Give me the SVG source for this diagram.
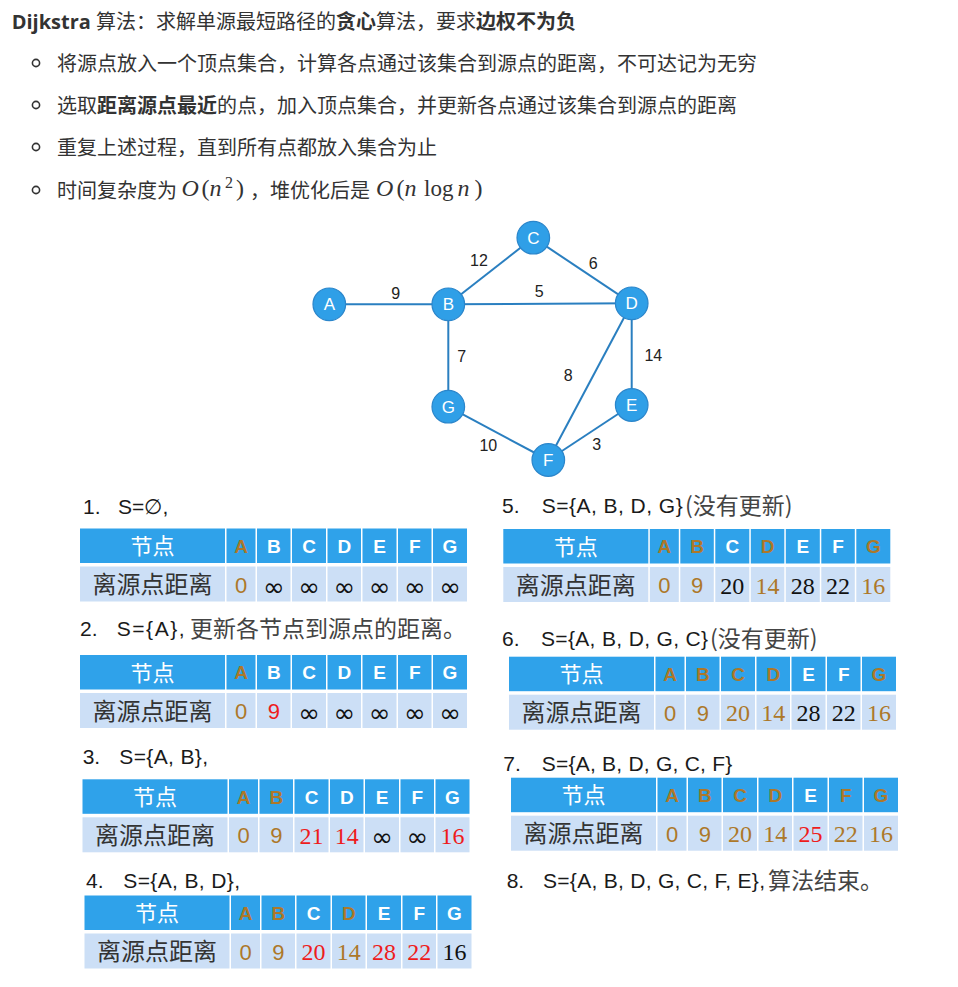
<svg xmlns="http://www.w3.org/2000/svg" xmlns:xlink="http://www.w3.org/1999/xlink" width="958" height="987" viewBox="0 0 958 987">
<style>
.t{font-family:"Open Sans","Noto Sans CJK SC",sans-serif;font-size:20px;fill:#333}
.b{font-weight:700}
.m{font-family:"Liberation Serif",serif;font-size:24px;fill:#333}
.mi{font-style:italic}
.bul{fill:none;stroke:#333;stroke-width:1.6}
.edge{stroke:#2A7FC0;stroke-width:2;fill:none}
.node circle{fill:#2F9FE7;stroke:#2B86CB;stroke-width:1.2}
.node text{fill:#fff;font-family:"Liberation Sans",sans-serif;font-size:17px;text-anchor:middle}
.el{font-family:"Liberation Sans",sans-serif;font-size:16px;fill:#222;text-anchor:middle}
.hd{fill:#2FA2EA}
.rw{fill:#CCDFF6}
.hl{font-family:"Liberation Sans",sans-serif;font-weight:700;font-size:19px;fill:#fff;text-anchor:middle}
.hz{font-family:"Noto Sans CJK SC",sans-serif;font-size:22px;fill:#fff;text-anchor:middle}
.rz{font-family:"Noto Sans CJK SC",sans-serif;font-size:24px;fill:#333;text-anchor:middle}
.v{font-family:"Liberation Serif",serif;font-size:24px;text-anchor:middle;fill:#111}
.vs{font-family:"Liberation Sans",sans-serif;font-size:22px;text-anchor:middle;fill:#111}
.inf{font-family:"DejaVu Sans",sans-serif;font-size:26px;text-anchor:middle;fill:#111}
.go{fill:#AD7829}
.rd{fill:#EE1C1C}
.st{font-family:"Liberation Sans",sans-serif;font-size:21px;fill:#1a1a1a}
.sz{font-family:"Noto Sans CJK SC",sans-serif;font-size:23px;fill:#444}
</style>
<defs>
<g id="tb">
<rect class="hd" x="0" y="0" width="145" height="34.5"/>
<rect class="hd" x="146.5" y="0" width="29" height="34.5"/>
<rect class="hd" x="177" y="0" width="33.5" height="34.5"/>
<rect class="hd" x="212" y="0" width="34" height="34.5"/>
<rect class="hd" x="247.5" y="0" width="33.5" height="34.5"/>
<rect class="hd" x="282.5" y="0" width="34" height="34.5"/>
<rect class="hd" x="318" y="0" width="33.5" height="34.5"/>
<rect class="hd" x="353" y="0" width="34" height="34.5"/>
<rect class="rw" x="0" y="38" width="145" height="35"/>
<rect class="rw" x="146.5" y="38" width="29" height="35"/>
<rect class="rw" x="177" y="38" width="33.5" height="35"/>
<rect class="rw" x="212" y="38" width="34" height="35"/>
<rect class="rw" x="247.5" y="38" width="33.5" height="35"/>
<rect class="rw" x="282.5" y="38" width="34" height="35"/>
<rect class="rw" x="318" y="38" width="33.5" height="35"/>
<rect class="rw" x="353" y="38" width="34" height="35"/>
<text class="hz" x="72.5" y="25.5">节点</text>
<text class="rz" x="72.5" y="64.5">离源点距离</text>
</g>
</defs>

<g id="intro">
<text class="t" x="11.7" y="29.3"><tspan class="b">Dijkstra</tspan> 算法：求解单源最短路径的<tspan class="b">贪心</tspan>算法，要求<tspan class="b">边权不为负</tspan></text>
<circle class="bul" cx="36" cy="63" r="3.6"/>
<text class="t" x="57" y="70.6">将源点放入一个顶点集合，计算各点通过该集合到源点的距离，不可达记为无穷</text>
<circle class="bul" cx="36" cy="105" r="3.6"/>
<text class="t" x="57" y="112.6">选取<tspan class="b">距离源点最近</tspan>的点，加入顶点集合，并更新各点通过该集合到源点的距离</text>
<circle class="bul" cx="36" cy="147" r="3.6"/>
<text class="t" x="57" y="154.6">重复上述过程，直到所有点都放入集合为止</text>
<circle class="bul" cx="36" cy="190" r="3.6"/>
<text class="t" x="57" y="197.6">时间复杂度为</text>
<text class="m mi" x="181.5" y="196">O</text>
<text class="m" x="201.5" y="196">(</text>
<text class="m mi" x="209.5" y="196">n</text>
<text class="m" x="225" y="188" style="font-size:16px">2</text>
<text class="m" x="236" y="196">)</text>
<text class="t" x="250" y="197.6">，堆优化后是</text>
<text class="m mi" x="376" y="196">O</text>
<text class="m" x="396.5" y="196">(</text>
<text class="m mi" x="404.5" y="196">n</text>
<text class="m" x="424" y="196" style="font-size:23px">log</text>
<text class="m mi" x="457.5" y="196">n</text>
<text class="m" x="474.5" y="196">)</text>
</g>

<g id="connectors">
<line class="edge" x1="329.3" y1="304.3" x2="448.3" y2="304.3"/>
<line class="edge" x1="448.3" y1="304.3" x2="533.3" y2="237.7"/>
<line class="edge" x1="533.3" y1="237.7" x2="631.7" y2="303.3"/>
<line class="edge" x1="448.3" y1="304.3" x2="631.7" y2="303.3"/>
<line class="edge" x1="448.3" y1="304.3" x2="448.3" y2="406.7"/>
<line class="edge" x1="631.7" y1="303.3" x2="548.3" y2="460"/>
<line class="edge" x1="631.7" y1="303.3" x2="631.7" y2="405"/>
<line class="edge" x1="448.3" y1="406.7" x2="548.3" y2="460"/>
<line class="edge" x1="631.7" y1="405" x2="548.3" y2="460"/>
<text class="el" x="479" y="265.5">12</text>
<text class="el" x="593.3" y="269">6</text>
<text class="el" x="395.7" y="299">9</text>
<text class="el" x="539.3" y="297.4">5</text>
<text class="el" x="461.7" y="362.4">7</text>
<text class="el" x="653.3" y="360.7">14</text>
<text class="el" x="568.3" y="380.7">8</text>
<text class="el" x="488.3" y="450.7">10</text>
<text class="el" x="596.7" y="450">3</text>
</g>

<g id="node-A" class="node"><circle cx="329.3" cy="304.3" r="16.3"/><text x="329.3" y="310.3">A</text></g>
<g id="node-B" class="node"><circle cx="448.3" cy="304.3" r="16.3"/><text x="448.3" y="310.3">B</text></g>
<g id="node-C" class="node"><circle cx="533.3" cy="237.7" r="16.3"/><text x="533.3" y="243.7">C</text></g>
<g id="node-D" class="node"><circle cx="631.7" cy="303.3" r="16.3"/><text x="631.7" y="309.3">D</text></g>
<g id="node-G" class="node"><circle cx="448.3" cy="406.7" r="16.3"/><text x="448.3" y="412.7">G</text></g>
<g id="node-E" class="node"><circle cx="631.7" cy="405" r="16.3"/><text x="631.7" y="411">E</text></g>
<g id="node-F" class="node"><circle cx="548.3" cy="460" r="16.3"/><text x="548.3" y="466">F</text></g>

<g id="step1">
<text class="st" x="83" y="514">1.</text>
<text class="st" x="118" y="514" textLength="50.3">S=∅,</text>
<g transform="translate(80,528.5)">
<use xlink:href="#tb" href="#tb"/>
<text class="hl go" x="161" y="24.3">A</text><text class="hl" x="193.75" y="24.3">B</text><text class="hl" x="229" y="24.3">C</text><text class="hl" x="264.25" y="24.3">D</text><text class="hl" x="299.5" y="24.3">E</text><text class="hl" x="334.75" y="24.3">F</text><text class="hl" x="370" y="24.3">G</text>
<text class="vs go" x="161" y="64.1">0</text><text class="inf" x="193.75" y="67">∞</text><text class="inf" x="229" y="67">∞</text><text class="inf" x="264.25" y="67">∞</text><text class="inf" x="299.5" y="67">∞</text><text class="inf" x="334.75" y="67">∞</text><text class="inf" x="370" y="67">∞</text>
</g>
</g>

<g id="step2">
<text class="st" x="80" y="635.5">2.</text>
<text class="st" x="116.7" y="635.5" textLength="68">S={A},</text>
<text class="sz" x="190" y="636.7">更新各节点到源点的距离。</text>
<g transform="translate(80,655)">
<use xlink:href="#tb" href="#tb"/>
<text class="hl go" x="161" y="24.3">A</text><text class="hl" x="193.75" y="24.3">B</text><text class="hl" x="229" y="24.3">C</text><text class="hl" x="264.25" y="24.3">D</text><text class="hl" x="299.5" y="24.3">E</text><text class="hl" x="334.75" y="24.3">F</text><text class="hl" x="370" y="24.3">G</text>
<text class="vs go" x="161" y="64.1">0</text><text class="vs rd" x="193.75" y="64.1">9</text><text class="inf" x="229" y="67">∞</text><text class="inf" x="264.25" y="67">∞</text><text class="inf" x="299.5" y="67">∞</text><text class="inf" x="334.75" y="67">∞</text><text class="inf" x="370" y="67">∞</text>
</g>
</g>

<g id="step3">
<text class="st" x="82.7" y="764">3.</text>
<text class="st" x="119.3" y="764" textLength="88.7">S={A, B},</text>
<g transform="translate(82.5,779.3)">
<use xlink:href="#tb" href="#tb"/>
<text class="hl go" x="161" y="24.3">A</text><text class="hl go" x="193.75" y="24.3">B</text><text class="hl" x="229" y="24.3">C</text><text class="hl" x="264.25" y="24.3">D</text><text class="hl" x="299.5" y="24.3">E</text><text class="hl" x="334.75" y="24.3">F</text><text class="hl" x="370" y="24.3">G</text>
<text class="vs go" x="161" y="64.1">0</text><text class="vs go" x="193.75" y="64.1">9</text><text class="v rd" x="229" y="64.6">21</text><text class="v rd" x="264.25" y="64.6">14</text><text class="inf" x="299.5" y="67">∞</text><text class="inf" x="334.75" y="67">∞</text><text class="v rd" x="370" y="64.6">16</text>
</g>
</g>

<g id="step4">
<text class="st" x="86" y="887.5">4.</text>
<text class="st" x="123.3" y="887.5" textLength="116.7">S={A, B, D},</text>
<g transform="translate(84.5,895.5)">
<use xlink:href="#tb" href="#tb"/>
<text class="hl go" x="161" y="24.3">A</text><text class="hl go" x="193.75" y="24.3">B</text><text class="hl" x="229" y="24.3">C</text><text class="hl go" x="264.25" y="24.3">D</text><text class="hl" x="299.5" y="24.3">E</text><text class="hl" x="334.75" y="24.3">F</text><text class="hl" x="370" y="24.3">G</text>
<text class="vs go" x="161" y="64.1">0</text><text class="vs go" x="193.75" y="64.1">9</text><text class="v rd" x="229" y="64.6">20</text><text class="v go" x="264.25" y="64.6">14</text><text class="v rd" x="299.5" y="64.6">28</text><text class="v rd" x="334.75" y="64.6">22</text><text class="v" x="370" y="64.6">16</text>
</g>
</g>

<g id="step5">
<text class="st" x="502" y="512.5">5.</text>
<text class="st" x="541.7" y="512.5" textLength="141">S={A, B, D, G}</text>
<text class="sz" x="685" y="513.7">(没有更新)</text>
<g transform="translate(503.3,529)">
<use xlink:href="#tb" href="#tb"/>
<text class="hl go" x="161" y="24.3">A</text><text class="hl go" x="193.75" y="24.3">B</text><text class="hl" x="229" y="24.3">C</text><text class="hl go" x="264.25" y="24.3">D</text><text class="hl" x="299.5" y="24.3">E</text><text class="hl" x="334.75" y="24.3">F</text><text class="hl go" x="370" y="24.3">G</text>
<text class="vs go" x="161" y="64.1">0</text><text class="vs go" x="193.75" y="64.1">9</text><text class="v" x="229" y="64.6">20</text><text class="v go" x="264.25" y="64.6">14</text><text class="v" x="299.5" y="64.6">28</text><text class="v" x="334.75" y="64.6">22</text><text class="v go" x="370" y="64.6">16</text>
</g>
</g>

<g id="step6">
<text class="st" x="502" y="646">6.</text>
<text class="st" x="541" y="646" textLength="167">S={A, B, D, G, C}</text>
<text class="sz" x="710" y="647">(没有更新)</text>
<g transform="translate(509,656.7)">
<use xlink:href="#tb" href="#tb"/>
<text class="hl go" x="161" y="24.3">A</text><text class="hl go" x="193.75" y="24.3">B</text><text class="hl go" x="229" y="24.3">C</text><text class="hl go" x="264.25" y="24.3">D</text><text class="hl" x="299.5" y="24.3">E</text><text class="hl" x="334.75" y="24.3">F</text><text class="hl go" x="370" y="24.3">G</text>
<text class="vs go" x="161" y="64.1">0</text><text class="vs go" x="193.75" y="64.1">9</text><text class="v go" x="229" y="64.6">20</text><text class="v go" x="264.25" y="64.6">14</text><text class="v" x="299.5" y="64.6">28</text><text class="v" x="334.75" y="64.6">22</text><text class="v go" x="370" y="64.6">16</text>
</g>
</g>

<g id="step7">
<text class="st" x="503.3" y="771">7.</text>
<text class="st" x="541.7" y="771" textLength="190.6">S={A, B, D, G, C, F}</text>
<g transform="translate(511,777.7)">
<use xlink:href="#tb" href="#tb"/>
<text class="hl go" x="161" y="24.3">A</text><text class="hl go" x="193.75" y="24.3">B</text><text class="hl go" x="229" y="24.3">C</text><text class="hl go" x="264.25" y="24.3">D</text><text class="hl" x="299.5" y="24.3">E</text><text class="hl go" x="334.75" y="24.3">F</text><text class="hl go" x="370" y="24.3">G</text>
<text class="vs go" x="161" y="64.1">0</text><text class="vs go" x="193.75" y="64.1">9</text><text class="v go" x="229" y="64.6">20</text><text class="v go" x="264.25" y="64.6">14</text><text class="v rd" x="299.5" y="64.6">25</text><text class="v go" x="334.75" y="64.6">22</text><text class="v go" x="370" y="64.6">16</text>
</g>
</g>

<g id="step8">
<text class="st" x="506.7" y="887.5">8.</text>
<text class="st" x="543" y="887.5" textLength="222">S={A, B, D, G, C, F, E},</text>
<text class="sz" x="768" y="888.7">算法结束。</text>
</g>
</svg>
